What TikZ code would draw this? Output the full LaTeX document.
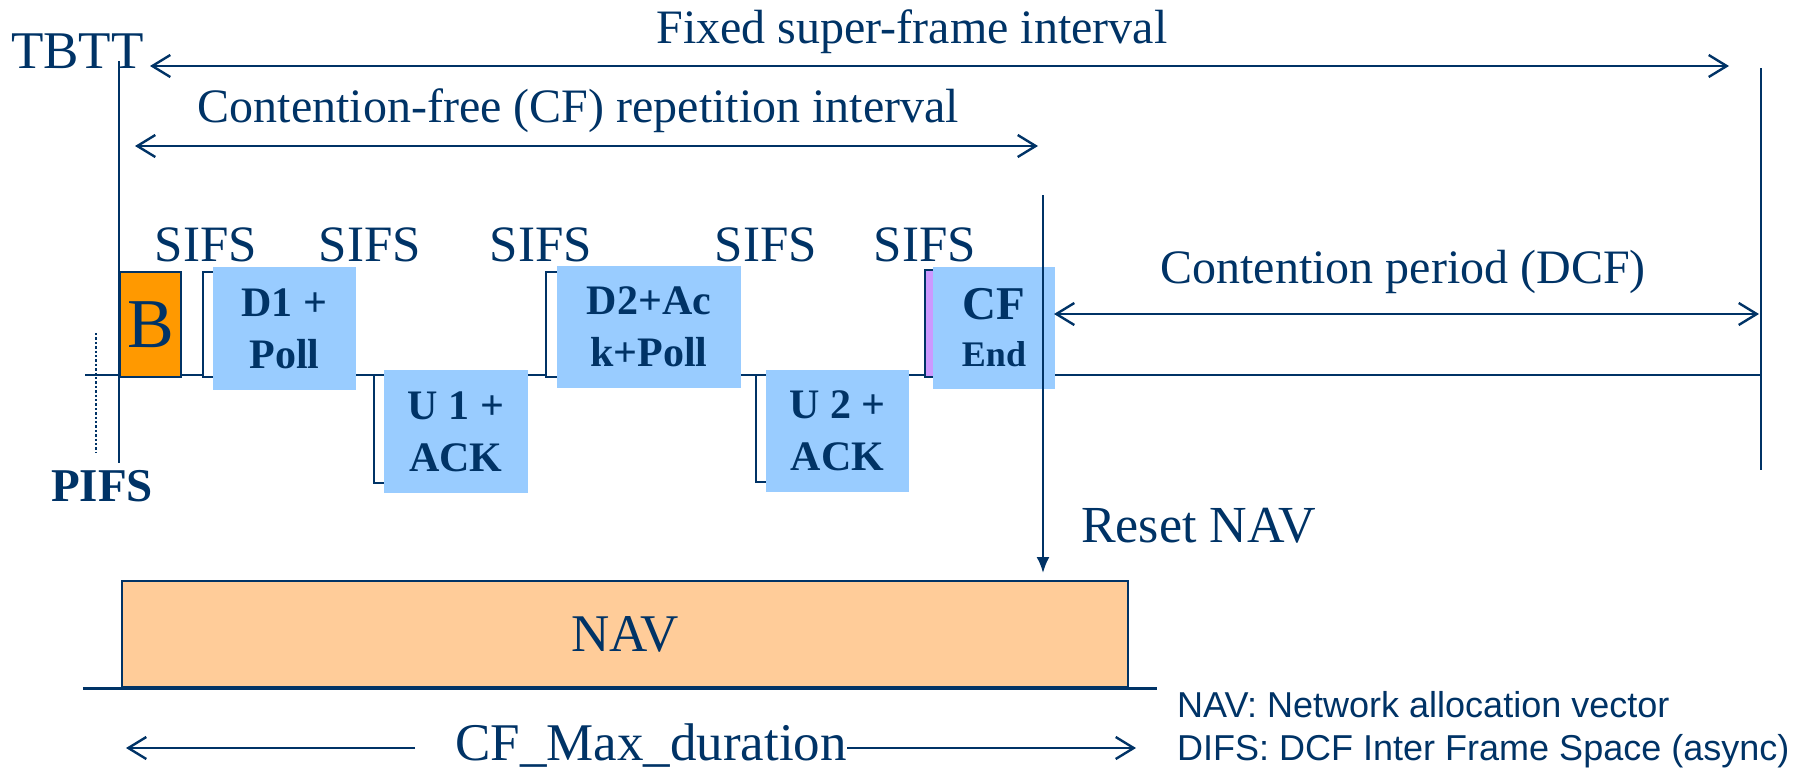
\documentclass[tikz,border=0pt]{standalone}
\usepackage{fontspec}
\setmainfont{Liberation Serif}
\setsansfont{Liberation Sans}
\usetikzlibrary{arrows.meta}
\usetikzlibrary{positioning}
\usetikzlibrary{calc}

\definecolor{navy}{HTML}{003366}
\definecolor{frameblue}{HTML}{99CCFF}
\definecolor{beaconorange}{HTML}{FF9900}
\definecolor{navorange}{HTML}{FFCC99}
\definecolor{cfpurple}{HTML}{CC99FF}

\begin{document}
\begin{tikzpicture}[x=1pt,y=-1pt]
\tikzset{
wire/.style  = {draw=navy, line width=2.4pt},
span/.style  = {wire, {Straight Barb[length=18pt,width=22pt]}-{Straight Barb[length=18pt,width=22pt]}},
tomax/.style = {wire, -{Straight Barb[length=18pt,width=22pt]}},
txt/.style   = {text=navy, inner sep=0pt, anchor=base},
outl/.style  = {draw=navy, line width=2.4pt, fill=white, inner sep=0pt},
frm/.style   = {fill=frameblue, text=navy, inner sep=0pt, align=center,
                font=\fontsize{42}{52}\selectfont\bfseries},
big/.style   = {font=\fontsize{48}{56}\selectfont},
sifs/.style  = {txt, font=\fontsize{51}{56}\selectfont}
}
\useasboundingbox (0,0) rectangle (1818,769);

% fixed points of the time axis
\coordinate (tl-l) at (85,375);
\coordinate (tl-r) at (1761,375);
\coordinate (tbtt-top) at (119,61);
\coordinate (tbtt-bot) at (119,463);
\coordinate (pifs-top) at (96,333);
\coordinate (pifs-bot) at (96,453);
\coordinate (end-top) at (1761,68);
\coordinate (end-bot) at (1761,470);
\coordinate (cf-top) at (1043,195);
\coordinate (reset-tip) at (1043,573);
\coordinate (sf-l) at (150,66);
\coordinate (sf-r) at (1729,66);
\coordinate (rep-l) at (135,146);
\coordinate (rep-r) at (1038,146);
\coordinate (cp-l) at (1054,314);
\coordinate (cp-r) at (1759,314);
\coordinate (max-l) at (126,748);
\coordinate (max-r) at (1136,748);

\draw[wire] (tl-l) -- (tl-r);

% frames on the air
\node[outl, fill=beaconorange, minimum width=61, minimum height=105, text=navy,
      font=\fontsize{70}{70}\selectfont] (B) at (150.5,324.5) {B};
\node[outl, minimum width=147, minimum height=105] (D1o) at (276.5,324.5) {};
\node[outl, minimum width=146, minimum height=108] (U1o) at (447,429) {};
\node[outl, minimum width=154, minimum height=105] (D2o) at (623,324.5) {};
\node[outl, minimum width=144, minimum height=107] (U2o) at (828,428.5) {};
\node[outl, fill=cfpurple, minimum width=65, minimum height=107] (CFo) at (957.5,323.5) {};

\node[frm, minimum width=143, minimum height=123] (D1) at (284.5,328.5) {D1 +\\Poll};
\node[frm, minimum width=144, minimum height=123] (U1) at (456,431.5) {U 1 +\\ACK};
\node[frm, minimum width=184, minimum height=122] (D2) at (649,327) {D2+Ac\\k+Poll};
\node[frm, minimum width=143, minimum height=122] (U2) at (837.5,431) {U 2 +\\ACK};
\node[frm, minimum width=122, minimum height=122, font=\fontsize{47}{47}\selectfont\bfseries]
      (CF) at (994,328) {CF\\{\fontsize{36}{36}\selectfont End}};

\draw[wire, line width=2.2pt] (tbtt-top) -- (tbtt-bot);
\draw[wire, dotted] (pifs-top) -- (pifs-bot);
\draw[wire, line width=2.2pt] (end-top) -- (end-bot);
\draw[wire, line width=2.2pt, -{Latex[length=16pt,width=13pt]}] (cf-top) -- (reset-tip);

% intervals
\draw[span] (sf-l) -- (sf-r);
\draw[span] (rep-l) -- (rep-r);
\draw[span] (cp-l) -- (cp-r);

\node[txt, font=\fontsize{53}{60}\selectfont] (tbtt) at (77.5,68) {TBTT};
\node[txt, big] (sf) at (912,43) {Fixed super-frame interval};
\node[txt, big] (rep) at (578.5,122) {Contention-free (CF) repetition interval};
\node[txt, big] (cp) at (1403,283) {Contention period (DCF)};

\node[sifs] (s1) at (206,261) {SIFS};
\node[sifs] (s2) at (370,261) {SIFS};
\node[sifs] (s3) at (541,261) {SIFS};
\node[sifs] (s4) at (766,261) {SIFS};
\node[sifs] (s5) at (925,261) {SIFS};

\node[txt, font=\fontsize{47}{52}\selectfont\bfseries] (pifs) at (102,501) {PIFS};
\node[txt, anchor=base west, font=\fontsize{52}{60}\selectfont] (reset) at (1081,542) {Reset NAV};

% NAV
\node[draw=navy, line width=2.4pt, fill=navorange, text=navy, inner sep=0pt,
      minimum width=1006, minimum height=106, font=\fontsize{53}{60}\selectfont]
      (nav) at (625,634) {NAV};
\draw[wire, line width=3pt] ($(nav.south west)+(-38,0)$) -- ($(nav.south east)+(28,0)$);

\node[txt, font=\fontsize{53}{60}\selectfont] (cfmax) at (651,760) {CF\_Max\_duration};
\draw[tomax] ([xshift=-40pt]cfmax.west |- max-l) -- (max-l);
\draw[tomax] (cfmax.east |- max-r) -- (max-r);

\node[txt, anchor=base west, font=\sffamily\fontsize{36}{40}\selectfont] (leg1) at (1177,717) {NAV: Network allocation vector};
\node[txt, anchor=base west, font=\sffamily\fontsize{36}{40}\selectfont] (leg2) at (1177,760) {DIFS: DCF Inter Frame Space (async)};
\end{tikzpicture}
\end{document}
